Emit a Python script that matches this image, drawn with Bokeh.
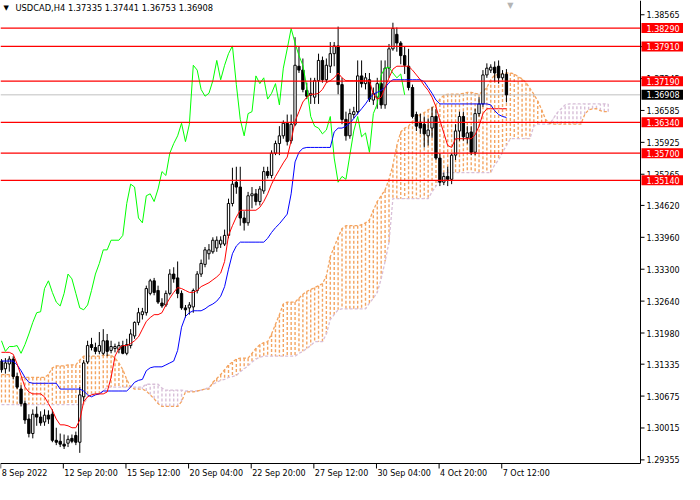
from bokeh.plotting import figure
from bokeh.models import Range1d, ColumnDataSource
from bokeh.core.properties import value
from bokeh.embed import file_html
from bokeh.resources import INLINE

title_text = "USDCAD,H4  1.37335 1.37441 1.36753 1.36908"

opens = [1.3140,1.3124,1.3134,1.3144,1.3108,1.3082,1.3052,1.3020,1.2990,1.3030,
         1.3024,1.3014,1.3028,1.3030,1.2976,1.2974,1.2968,1.2970,1.2980,1.2986,
         1.2972,1.3066,1.3138,1.3174,1.3168,1.3160,1.3156,1.3182,1.3162,1.3166,
         1.3164,1.3172,1.3156,1.3172,1.3192,1.3220,1.3236,1.3240,1.3280,1.3306,
         1.3286,1.3260,1.3256,1.3280,1.3320,1.3312,1.3280,1.3250,1.3250,1.3252,
         1.3286,1.3320,1.3340,1.3362,1.3366,1.3374,1.3382,1.3382,1.3400,1.3466,
         1.3510,1.3500,1.3436,1.3426,1.3482,1.3486,1.3470,1.3492,1.3532,1.3524,
         1.3570,1.3590,1.3606,1.3632,1.3596,1.3630,1.3750,1.3742,1.3700,1.3690,
         1.3686,1.3720,1.3762,1.3722,1.3750,1.3776,1.3792,1.3712,1.3640,1.3606,
         1.3650,1.3656,1.3730,1.3714,1.3722,1.3680,1.3686,1.3714,1.3670,1.3746,
         1.3786,1.3816,1.3798,1.3772,1.3750,1.3706,1.3650,1.3634,1.3630,1.3606,
         1.3622,1.3646,1.3560,1.3510,1.3522,1.3516,1.3566,1.3616,1.3646,1.3602,
         1.3614,1.3572,1.3652,1.3672,1.3732,1.3742,1.3748,1.3750,1.3726,1.37335]
highs = [1.3144,1.3146,1.3150,1.3150,1.3116,1.3090,1.3058,1.3030,1.3040,1.3046,
         1.3036,1.3040,1.3038,1.3040,1.3002,1.2990,1.2988,1.2986,1.2988,1.2994,
         1.3086,1.3142,1.3182,1.3188,1.3178,1.3200,1.3206,1.3196,1.3182,1.3176,
         1.3180,1.3182,1.3186,1.3206,1.3222,1.3250,1.3250,1.3296,1.3310,1.3312,
         1.3296,1.3270,1.3286,1.3330,1.3334,1.3346,1.3286,1.3256,1.3262,1.3290,
         1.3326,1.3350,1.3376,1.3382,1.3396,1.3398,1.3398,1.3412,1.3476,1.3540,
         1.3542,1.3542,1.3450,1.3490,1.3500,1.3496,1.3502,1.3542,1.3542,1.3576,
         1.3596,1.3626,1.3638,1.3650,1.3650,1.3810,1.3790,1.3766,1.3716,1.3726,
         1.3726,1.3776,1.3770,1.3766,1.3800,1.3800,1.3832,1.3726,1.3656,1.3662,
         1.3666,1.3762,1.3762,1.3736,1.3736,1.3706,1.3726,1.3762,1.3762,1.3796,
         1.3840,1.3830,1.3802,1.3790,1.3786,1.3712,1.3656,1.3652,1.3646,1.3642,
         1.3666,1.3662,1.3570,1.3530,1.3542,1.3570,1.3630,1.3656,1.3656,1.3626,
         1.3626,1.3662,1.3686,1.3742,1.3756,1.3754,1.3760,1.3762,1.3742,1.37441]
lows = [1.3116,1.3114,1.3118,1.3102,1.3082,1.3046,1.3010,1.2982,1.2980,1.3006,
        1.3006,1.3006,1.3010,1.2972,1.2966,1.2962,1.2958,1.2962,1.2970,1.2966,
        1.2950,1.3056,1.3134,1.3162,1.3154,1.3154,1.3152,1.3150,1.3156,1.3158,
        1.3156,1.3154,1.3152,1.3166,1.3186,1.3214,1.3226,1.3234,1.3276,1.3276,
        1.3258,1.3250,1.3252,1.3276,1.3302,1.3270,1.3246,1.3230,1.3236,1.3240,
        1.3280,1.3314,1.3334,1.3350,1.3362,1.3366,1.3374,1.3378,1.3394,1.3460,
        1.3486,1.3420,1.3410,1.3420,1.3456,1.3462,1.3462,1.3486,1.3518,1.3518,
        1.3566,1.3566,1.3600,1.3586,1.3590,1.3626,1.3736,1.3696,1.3682,1.3672,
        1.3672,1.3672,1.3716,1.3716,1.3736,1.3750,1.3692,1.3630,1.3596,1.3600,
        1.3642,1.3650,1.3706,1.3702,1.3676,1.3670,1.3662,1.3662,1.3662,1.3726,
        1.3782,1.3780,1.3754,1.3734,1.3700,1.3642,1.3616,1.3610,1.3582,1.3586,
        1.3602,1.3556,1.3502,1.3504,1.3502,1.3506,1.3556,1.3596,1.3596,1.3590,
        1.3566,1.3566,1.3646,1.3666,1.3726,1.3736,1.3718,1.3714,1.3722,1.36753]
closes = [1.3122,1.3136,1.3144,1.3108,1.3086,1.3052,1.3018,1.2990,1.3030,1.3024,
          1.3012,1.3028,1.3020,1.2976,1.2972,1.2968,1.2964,1.2978,1.2974,1.2972,
          1.3070,1.3136,1.3172,1.3168,1.3160,1.3172,1.3182,1.3160,1.3170,1.3170,
          1.3172,1.3156,1.3174,1.3196,1.3220,1.3240,1.3242,1.3290,1.3306,1.3282,
          1.3262,1.3254,1.3280,1.3320,1.3310,1.3280,1.3250,1.3246,1.3256,1.3286,
          1.3320,1.3342,1.3370,1.3370,1.3390,1.3390,1.3390,1.3400,1.3466,1.3506,
          1.3500,1.3436,1.3426,1.3482,1.3486,1.3470,1.3496,1.3532,1.3524,1.3570,
          1.3590,1.3606,1.3632,1.3594,1.3630,1.3752,1.3742,1.3702,1.3688,1.3694,
          1.3720,1.3762,1.3722,1.3752,1.3776,1.3792,1.3712,1.3640,1.3606,1.3652,
          1.3656,1.3730,1.3714,1.3726,1.3682,1.3694,1.3714,1.3670,1.3746,1.3786,
          1.3828,1.3798,1.3772,1.3752,1.3706,1.3646,1.3626,1.3622,1.3610,1.3618,
          1.3646,1.3560,1.3510,1.3522,1.3516,1.3566,1.3616,1.3646,1.3604,1.3612,
          1.3572,1.3652,1.3672,1.3732,1.3746,1.3748,1.3736,1.3726,1.3734,1.36908]

tenkan = [1.3158,1.3158,1.3158,1.3154,1.3134,1.3110,1.3086,1.3076,1.3072,1.3072,
          1.3072,1.3066,1.3052,1.3038,1.3020,1.3008,1.3008,1.3006,1.3002,1.3002,
          1.3018,1.3056,1.3066,1.3070,1.3072,1.3072,1.3072,1.3076,1.3106,1.3150,
          1.3166,1.3172,1.3172,1.3176,1.3182,1.3190,1.3206,1.3222,1.3230,1.3236,
          1.3236,1.3240,1.3256,1.3270,1.3282,1.3292,1.3290,1.3286,1.3282,1.3282,
          1.3286,1.3294,1.3298,1.3302,1.3308,1.3314,1.3322,1.3346,1.3400,1.3420,
          1.3438,1.3452,1.3452,1.3452,1.3452,1.3452,1.3458,1.3470,1.3486,1.3506,
          1.3522,1.3536,1.3550,1.3562,1.3596,1.3636,1.3656,1.3676,1.3686,1.3692,
          1.3692,1.3694,1.3702,1.3716,1.3720,1.3726,1.3736,1.3726,1.3720,1.3720,
          1.3720,1.3720,1.3720,1.3720,1.3720,1.3692,1.3682,1.3686,1.3706,1.3726,
          1.3744,1.3750,1.3750,1.3750,1.3750,1.3742,1.3732,1.3722,1.3710,1.3700,
          1.3686,1.3666,1.3638,1.3612,1.3586,1.3582,1.3600,1.3600,1.3600,1.3600,
          1.3600,1.3608,1.3626,1.3652,1.3662,1.3662,1.3662,1.3662,1.3662,1.3662]

kijun = [1.3140,1.3140,1.3140,1.3140,1.3132,1.3120,1.3106,1.3096,1.3094,1.3094,
         1.3094,1.3094,1.3094,1.3094,1.3094,1.3082,1.3082,1.3082,1.3082,1.3082,
         1.3082,1.3078,1.3070,1.3066,1.3070,1.3072,1.3078,1.3078,1.3078,1.3078,
         1.3078,1.3078,1.3078,1.3086,1.3096,1.3100,1.3102,1.3120,1.3126,1.3128,
         1.3128,1.3128,1.3132,1.3136,1.3140,1.3162,1.3210,1.3232,1.3240,1.3244,
         1.3244,1.3244,1.3248,1.3254,1.3258,1.3264,1.3274,1.3294,1.3330,1.3362,
         1.3378,1.3386,1.3386,1.3386,1.3386,1.3386,1.3386,1.3386,1.3394,1.3406,
         1.3416,1.3424,1.3434,1.3444,1.3486,1.3552,1.3572,1.3580,1.3582,1.3582,
         1.3582,1.3582,1.3582,1.3582,1.3582,1.3614,1.3622,1.3622,1.3626,1.3632,
         1.3642,1.3652,1.3662,1.3672,1.3684,1.3692,1.3696,1.3700,1.3706,1.3716,
         1.3722,1.3722,1.3722,1.3722,1.3722,1.3722,1.3722,1.3722,1.3718,1.3706,
         1.3694,1.3680,1.3672,1.3672,1.3672,1.3672,1.3672,1.3672,1.3672,1.3672,
         1.3672,1.3672,1.3672,1.3672,1.3672,1.3670,1.3658,1.3650,1.3646,1.3644]

senkou_a = [1.3112,1.3112,1.3112,1.3110,1.3108,1.3106,1.3106,1.3106,1.3106,1.3106,
            1.3106,1.3106,1.3112,1.3126,1.3130,1.3130,1.3130,1.3132,1.3132,1.3132,
            1.3142,1.3150,1.3150,1.3150,1.3150,1.3150,1.3152,1.3152,1.3152,1.3146,
            1.3136,1.3122,1.3102,1.3086,1.3082,1.3082,1.3082,1.3078,1.3070,1.3062,
            1.3052,1.3046,1.3046,1.3046,1.3046,1.3046,1.3056,1.3076,1.3076,1.3076,
            1.3078,1.3080,1.3082,1.3082,1.3096,1.3104,1.3112,1.3122,1.3132,1.3138,
            1.3144,1.3146,1.3146,1.3146,1.3156,1.3166,1.3174,1.3178,1.3180,1.3196,
            1.3216,1.3236,1.3258,1.3262,1.3262,1.3262,1.3270,1.3278,1.3284,1.3288,
            1.3292,1.3296,1.3300,1.3316,1.3356,1.3376,1.3396,1.3414,1.3420,1.3420,
            1.3420,1.3420,1.3422,1.3426,1.3432,1.3452,1.3470,1.3482,1.3494,1.3516,
            1.3546,1.3586,1.3614,1.3622,1.3626,1.3636,1.3644,1.3650,1.3654,1.3660,
            1.3664,1.3670,1.3682,1.3690,1.3692,1.3692,1.3692,1.3692,1.3694,1.3696,
            1.3696,1.3694,1.3692,1.3698,1.3706,1.3722,1.3732,1.3732,1.3734,1.3736,
            1.3736,1.3734,1.3728,1.3724,1.3716,1.3704,1.3692,1.3678,1.3660,1.3640,
            1.3632,1.3630,1.3630,1.3630,1.3630,1.3630,1.3630,1.3630,1.3630,1.3650,
            1.3660,1.3662,1.3662,1.3658,1.3656,1.3656]

senkou_b = [1.3050,1.3050,1.3050,1.3050,1.3050,1.3050,1.3050,1.3050,1.3050,1.3050,
            1.3050,1.3050,1.3050,1.3050,1.3050,1.3050,1.3050,1.3050,1.3050,1.3050,
            1.3050,1.3050,1.3066,1.3072,1.3072,1.3072,1.3078,1.3086,1.3086,1.3086,
            1.3086,1.3086,1.3086,1.3086,1.3086,1.3086,1.3086,1.3092,1.3092,1.3092,
            1.3092,1.3084,1.3080,1.3080,1.3080,1.3080,1.3080,1.3078,1.3078,1.3078,
            1.3078,1.3080,1.3082,1.3086,1.3092,1.3096,1.3100,1.3102,1.3106,1.3108,
            1.3110,1.3118,1.3124,1.3130,1.3138,1.3144,1.3148,1.3150,1.3150,1.3150,
            1.3150,1.3150,1.3150,1.3150,1.3150,1.3150,1.3156,1.3160,1.3166,1.3172,
            1.3180,1.3180,1.3180,1.3196,1.3226,1.3236,1.3246,1.3248,1.3248,1.3248,
            1.3248,1.3248,1.3248,1.3248,1.3260,1.3270,1.3282,1.3310,1.3346,1.3386,
            1.3476,1.3476,1.3476,1.3476,1.3476,1.3476,1.3476,1.3476,1.3476,1.3476,
            1.3490,1.3502,1.3522,1.3530,1.3530,1.3530,1.3530,1.3530,1.3530,1.3530,
            1.3530,1.3530,1.3530,1.3530,1.3530,1.3530,1.3546,1.3556,1.3572,1.3586,
            1.3600,1.3600,1.3600,1.3600,1.3600,1.3600,1.3626,1.3630,1.3630,1.3630,
            1.3630,1.3642,1.3654,1.3662,1.3670,1.3672,1.3672,1.3672,1.3672,1.3672,
            1.3672,1.3672,1.3672,1.3672,1.3672,1.3672]

chikou_shift = 26
levels = [1.38290, 1.37910, 1.37190, 1.36340, 1.35700, 1.35140]
last_price = 1.36908
y_ticks = [1.38565, 1.37905, 1.37245, 1.36585, 1.35925, 1.35265, 1.34620, 1.33960,
           1.33300, 1.32640, 1.31980, 1.31335, 1.30675, 1.30015, 1.29355]
x_tick_bars = [0, 16, 32, 48, 64, 80, 96, 112, 128]
x_tick_labels = ["8 Sep 2022", "12 Sep 20:00", "15 Sep 12:00", "20 Sep 04:00", "22 Sep 20:00",
                 "27 Sep 12:00", "30 Sep 04:00", "4 Oct 20:00", "7 Oct 12:00"]

# ---- layout: one frame covering the whole canvas; chart area + price/time strips ----
FONT = value("DejaVu Sans")
FS = value("8px")
W, H = 684, 484            # whole canvas
CW, CH = 640, 463          # chart area (price strip on the right, time strip below)
X0, X1 = -0.25, 163.25     # chart area in bar units
P_TOP, P_BOT = 1.3886, 1.2928
kx = CW / (X1 - X0)        # px per bar
ky = (P_TOP - P_BOT) / CH  # price per px
X_END = X0 + W / kx
P_END = P_TOP - H * ky

p = figure(width=W, height=H, output_backend="svg", toolbar_location=None,
           x_range=Range1d(X0, X_END), y_range=Range1d(P_END, P_TOP),
           min_border=0, min_border_left=0, min_border_right=0, min_border_top=0, min_border_bottom=0,
           background_fill_color="white", border_fill_color="white", outline_line_color=None)
p.axis.visible = False
p.grid.visible = False

# ---- Ichimoku cloud (hatched) ----
n_cloud = len(senkou_a)
cloud_idx = list(range(n_cloud))
cloud_cols = ["#F4A460" if a >= b else "#D8BFD8" for a, b in zip(senkou_a, senkou_b)]
p.segment(x0=cloud_idx, y0=senkou_a, x1=cloud_idx, y1=senkou_b, line_color=cloud_cols,
          line_width=1.4, line_dash="3 2")
p.line(cloud_idx, senkou_b, line_color="#D8BFD8", line_width=1.3, line_dash="3 2")
p.line(cloud_idx, senkou_a, line_color="#F4A460", line_width=1.3, line_dash="3 2")

# current price line (under the candles)
p.segment(x0=[X0], y0=[last_price], x1=[X1], y1=[last_price], line_color="#C0C0C0", line_width=1)

# ---- candles ----
n = len(opens)
idx = list(range(n))
src = ColumnDataSource(dict(
    x=idx, o=opens, h=highs, l=lows, c=closes,
    top=[max(o, c) for o, c in zip(opens, closes)],
    bot=[min(o, c) for o, c in zip(opens, closes)],
    fill=["white" if c >= o else "black" for o, c in zip(opens, closes)],
))
p.segment(x0="x", y0="l", x1="x", y1="h", source=src, line_color="black", line_width=1)
p.vbar(x="x", width=0.6, top="top", bottom="bot", source=src, fill_color="fill",
       line_color="black", line_width=1)

# ---- indicator lines ----
p.line(list(range(n - chikou_shift)), closes[chikou_shift:], line_color="#00FF00", line_width=1)
p.line(idx, kijun, line_color="#0000FF", line_width=1)
p.line(idx, tenkan, line_color="#FF0000", line_width=1)

# ---- horizontal level lines ----
p.segment(x0=[X0] * len(levels), y0=levels, x1=[X1] * len(levels), y1=levels,
          line_color="#FF0000", line_width=1.2)

# ---- axes (drawn) ----
p.segment(x0=[X1, X0], y0=[P_BOT, P_BOT], x1=[X1, X1], y1=[P_TOP, P_BOT], line_color="black", line_width=1)
# price ticks + labels
p.segment(x0=[X1] * len(y_ticks), y0=y_ticks, x1=[X1 + 4 / kx] * len(y_ticks), y1=y_ticks,
          line_color="black", line_width=1)
p.text(x=[X1 + 6 / kx] * len(y_ticks), y=y_ticks, text=[f"{t:.5f}" for t in y_ticks],
       text_font=FONT, text_font_size=FS, text_color="black",
       text_baseline="middle", text_align="left")
# time ticks + labels
xt = [b - 0.2 for b in x_tick_bars]
p.segment(x0=xt, y0=[P_BOT] * len(xt), x1=xt, y1=[P_BOT - 5 * ky] * len(xt),
          line_color="black", line_width=1)
p.text(x=[t + 1 / kx for t in xt], y=[P_BOT - 9.5 * ky] * len(xt), text=x_tick_labels,
       text_font=FONT, text_font_size=FS, text_color="black",
       text_baseline="middle", text_align="left")

# ---- price boxes for levels and last price ----
box_l = X1 + 1 / kx
box_r = X_END - 1.5 / kx
half = 5 * ky
p.quad(left=[box_l] * len(levels), right=[box_r] * len(levels),
       top=[lv + half for lv in levels], bottom=[lv - half for lv in levels],
       fill_color="#FF0000", line_color=None)
p.quad(left=[box_l], right=[box_r], top=[last_price + half], bottom=[last_price - half],
       fill_color="black", line_color=None)
p.text(x=[X1 + 6 / kx] * (len(levels) + 1), y=levels + [last_price],
       text=[f"{lv:.5f}" for lv in levels] + [f"{last_price:.5f}"],
       text_font=FONT, text_font_size=FS, text_color="white",
       text_baseline="middle", text_align="left")

# ---- title and markers ----
p.text(x=[X0 + 3 / kx], y=[P_TOP - 7 * ky], text=["\u25BC"], text_font=FONT,
       text_font_size=value("7px"), text_color="black", text_baseline="middle", text_align="left")
p.text(x=[X0 + 15 / kx], y=[P_TOP - 7 * ky], text=[title_text], text_font=FONT,
       text_font_size=value("8.3px"), text_color="black", text_baseline="middle", text_align="left")
p.text(x=[n], y=[P_TOP], text=["\u25BC"], text_font=FONT,
       text_font_size=value("8px"), text_color="#B4B4B4", text_baseline="top", text_align="center")

open("out.html", "w").write(file_html(p, INLINE))
